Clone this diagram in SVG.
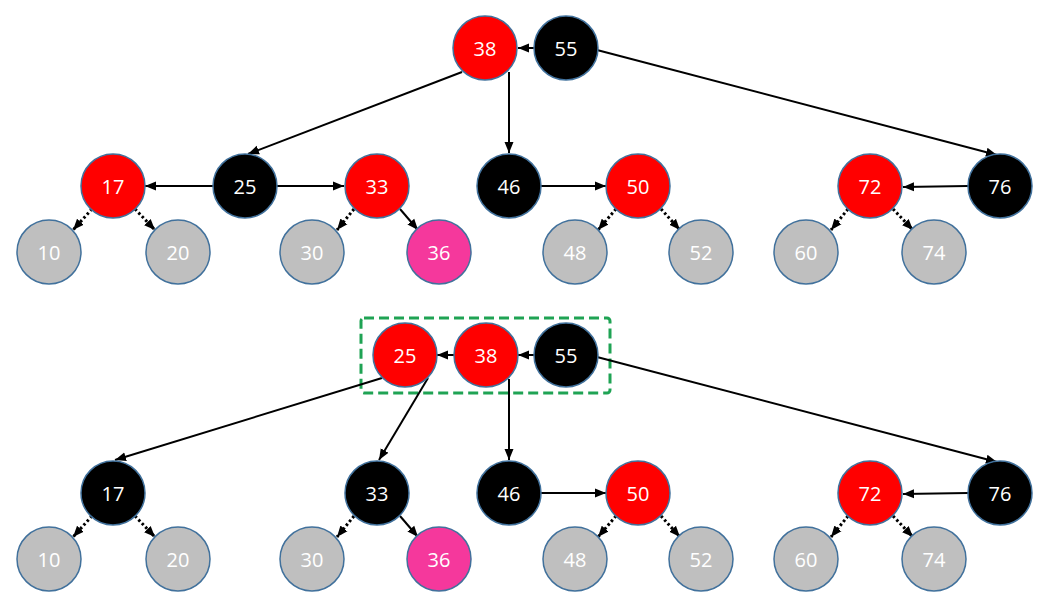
<svg xmlns="http://www.w3.org/2000/svg" width="1048" height="607" viewBox="0 0 1048 607">
<style>
.n{stroke:#41719c;stroke-width:1.5}
.r{fill:#ff0000}
.b{fill:#000000}
.g{fill:#bfbfbf}
.p{fill:#f5389c}
.t{font-family:"Open Sans","Liberation Sans",sans-serif;font-size:20px;fill:#ffffff;text-anchor:middle;dominant-baseline:central}
.e{stroke:#000;stroke-width:2;fill:none;marker-end:url(#ah)}
.d{stroke:#000;stroke-width:3;stroke-dasharray:2.5 2.5;fill:none;marker-end:url(#ah)}
</style>
<defs>
<marker id="ah" markerUnits="userSpaceOnUse" markerWidth="12" markerHeight="12" viewBox="0 0 12 12" refX="11" refY="6" orient="auto">
<path d="M0,1.5 L11,6 L0,10.5 Z" fill="#000"/>
</marker>
</defs>
<rect width="1048" height="607" fill="#ffffff"/>
<rect x="361" y="318" width="249" height="75" rx="3" fill="none" stroke="#1fa354" stroke-width="3" stroke-dasharray="10 5"/>
<g id="connectors">
<!-- top -->
<line class="e" x1="534" y1="48" x2="518" y2="48"/>
<line class="e" x1="462" y1="72" x2="248" y2="154"/>
<line class="e" x1="509" y1="72" x2="509" y2="153"/>
<line class="e" x1="597" y1="50" x2="997" y2="155"/>
<line class="e" x1="213" y1="186" x2="145" y2="186"/>
<line class="e" x1="277" y1="186" x2="344" y2="186"/>
<line class="e" x1="541" y1="186" x2="606" y2="186"/>
<line class="e" x1="968" y1="186" x2="903" y2="187"/>
<line class="d" x1="92" y1="209" x2="73" y2="230"/>
<line class="d" x1="135" y1="209" x2="155" y2="230"/>
<line class="d" x1="354" y1="209" x2="337" y2="230"/>
<line class="e" x1="400" y1="209" x2="418" y2="230"/>
<line class="d" x1="616" y1="209" x2="598" y2="230"/>
<line class="d" x1="661" y1="209" x2="680" y2="230"/>
<line class="d" x1="848" y1="209" x2="831" y2="230"/>
<line class="d" x1="893" y1="209" x2="913" y2="230"/>
<!-- bottom -->
<line class="e" x1="534" y1="355" x2="518" y2="355"/>
<line class="e" x1="454" y1="355" x2="437" y2="355"/>
<line class="e" x1="382" y1="378" x2="115" y2="460"/>
<line class="e" x1="428" y1="378" x2="379" y2="460"/>
<line class="e" x1="509" y1="379" x2="509" y2="460"/>
<line class="e" x1="597" y1="357" x2="997" y2="462"/>
<line class="e" x1="541" y1="493" x2="606" y2="493"/>
<line class="e" x1="968" y1="493" x2="903" y2="494"/>
<line class="d" x1="92" y1="516" x2="73" y2="537"/>
<line class="d" x1="135" y1="516" x2="155" y2="537"/>
<line class="d" x1="354" y1="516" x2="337" y2="537"/>
<line class="e" x1="400" y1="516" x2="418" y2="537"/>
<line class="d" x1="616" y1="516" x2="598" y2="537"/>
<line class="d" x1="661" y1="516" x2="680" y2="537"/>
<line class="d" x1="848" y1="516" x2="831" y2="537"/>
<line class="d" x1="893" y1="516" x2="913" y2="537"/>
</g>
<!-- top tree -->
<g id="t38"><circle class="n r" cx="485" cy="48" r="32"/><text class="t" x="485" y="48">38</text></g>
<g id="t55"><circle class="n b" cx="566" cy="48" r="32"/><text class="t" x="566" y="48">55</text></g>
<g id="t17"><circle class="n r" cx="113" cy="186" r="32"/><text class="t" x="113" y="186">17</text></g>
<g id="t25"><circle class="n b" cx="245" cy="186" r="32"/><text class="t" x="245" y="186">25</text></g>
<g id="t33"><circle class="n r" cx="377" cy="186" r="32"/><text class="t" x="377" y="186">33</text></g>
<g id="t46"><circle class="n b" cx="509" cy="186" r="32"/><text class="t" x="509" y="186">46</text></g>
<g id="t50"><circle class="n r" cx="638" cy="186" r="32"/><text class="t" x="638" y="186">50</text></g>
<g id="t72"><circle class="n r" cx="870" cy="186" r="32"/><text class="t" x="870" y="186">72</text></g>
<g id="t76"><circle class="n b" cx="1000" cy="186" r="32"/><text class="t" x="1000" y="186">76</text></g>
<g id="t10"><circle class="n g" cx="49" cy="252" r="32"/><text class="t" x="49" y="252">10</text></g>
<g id="t20"><circle class="n g" cx="178" cy="252" r="32"/><text class="t" x="178" y="252">20</text></g>
<g id="t30"><circle class="n g" cx="312" cy="252" r="32"/><text class="t" x="312" y="252">30</text></g>
<g id="t36"><circle class="n p" cx="439" cy="252" r="32"/><text class="t" x="439" y="252">36</text></g>
<g id="t48"><circle class="n g" cx="575" cy="252" r="32"/><text class="t" x="575" y="252">48</text></g>
<g id="t52"><circle class="n g" cx="701" cy="252" r="32"/><text class="t" x="701" y="252">52</text></g>
<g id="t60"><circle class="n g" cx="806" cy="252" r="32"/><text class="t" x="806" y="252">60</text></g>
<g id="t74"><circle class="n g" cx="934" cy="252" r="32"/><text class="t" x="934" y="252">74</text></g>
<!-- bottom tree -->
<g id="b25"><circle class="n r" cx="405" cy="355" r="32"/><text class="t" x="405" y="355">25</text></g>
<g id="b38"><circle class="n r" cx="486" cy="355" r="32"/><text class="t" x="486" y="355">38</text></g>
<g id="b55"><circle class="n b" cx="566" cy="355" r="32"/><text class="t" x="566" y="355">55</text></g>
<g id="b17"><circle class="n b" cx="113" cy="493" r="32"/><text class="t" x="113" y="493">17</text></g>
<g id="b33"><circle class="n b" cx="377" cy="493" r="32"/><text class="t" x="377" y="493">33</text></g>
<g id="b46"><circle class="n b" cx="509" cy="493" r="32"/><text class="t" x="509" y="493">46</text></g>
<g id="b50"><circle class="n r" cx="638" cy="493" r="32"/><text class="t" x="638" y="493">50</text></g>
<g id="b72"><circle class="n r" cx="870" cy="493" r="32"/><text class="t" x="870" y="493">72</text></g>
<g id="b76"><circle class="n b" cx="1000" cy="493" r="32"/><text class="t" x="1000" y="493">76</text></g>
<g id="b10"><circle class="n g" cx="49" cy="559" r="32"/><text class="t" x="49" y="559">10</text></g>
<g id="b20"><circle class="n g" cx="178" cy="559" r="32"/><text class="t" x="178" y="559">20</text></g>
<g id="b30"><circle class="n g" cx="312" cy="559" r="32"/><text class="t" x="312" y="559">30</text></g>
<g id="b36"><circle class="n p" cx="439" cy="559" r="32"/><text class="t" x="439" y="559">36</text></g>
<g id="b48"><circle class="n g" cx="575" cy="559" r="32"/><text class="t" x="575" y="559">48</text></g>
<g id="b52"><circle class="n g" cx="701" cy="559" r="32"/><text class="t" x="701" y="559">52</text></g>
<g id="b60"><circle class="n g" cx="806" cy="559" r="32"/><text class="t" x="806" y="559">60</text></g>
<g id="b74"><circle class="n g" cx="934" cy="559" r="32"/><text class="t" x="934" y="559">74</text></g>
</svg>
